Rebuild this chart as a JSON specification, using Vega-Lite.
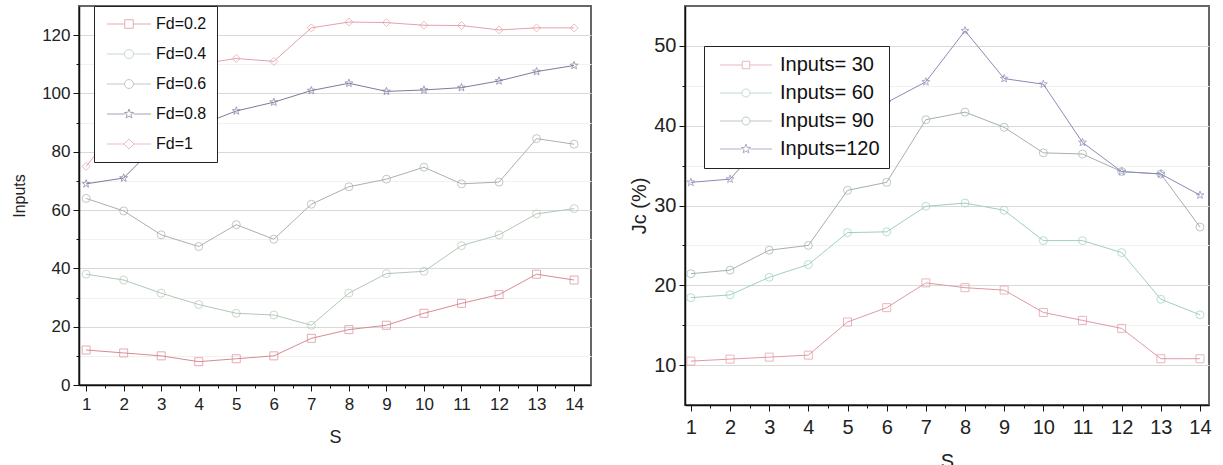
{
  "$schema": "https://vega.github.io/schema/vega-lite/v6.json",
  "padding": {"left": 10, "top": 4, "right": 5, "bottom": 0},
  "spacing": 36,
  "resolve": {"scale": {"color": "independent", "shape": "independent"}},
  "config": {
    "font": "Liberation Sans",
    "view": {"stroke": "#666", "strokeWidth": 2},
    "axis": {"domainColor": "#111", "domainWidth": 1.5, "tickColor": "#111", "labelColor": "#222", "titleColor": "#222", "titleFontWeight": "normal", "labelFont": "Liberation Sans", "titleFont": "Liberation Sans"},
    "legend": {"labelFont": "Liberation Sans", "labelColor": "#111", "fillColor": "#fff", "strokeColor": "#222", "symbolStrokeWidth": 1, "title": null}
  },
  "datasets": {
    "L": [
      {"S":1,"Inputs":12,"F":"Fd=0.2"},{"S":2,"Inputs":11,"F":"Fd=0.2"},{"S":3,"Inputs":10,"F":"Fd=0.2"},{"S":4,"Inputs":8,"F":"Fd=0.2"},{"S":5,"Inputs":9,"F":"Fd=0.2"},{"S":6,"Inputs":10,"F":"Fd=0.2"},{"S":7,"Inputs":16,"F":"Fd=0.2"},{"S":8,"Inputs":19,"F":"Fd=0.2"},{"S":9,"Inputs":20.5,"F":"Fd=0.2"},{"S":10,"Inputs":24.6,"F":"Fd=0.2"},{"S":11,"Inputs":28,"F":"Fd=0.2"},{"S":12,"Inputs":31,"F":"Fd=0.2"},{"S":13,"Inputs":38,"F":"Fd=0.2"},{"S":14,"Inputs":36,"F":"Fd=0.2"},
      {"S":1,"Inputs":38,"F":"Fd=0.4"},{"S":2,"Inputs":36,"F":"Fd=0.4"},{"S":3,"Inputs":31.5,"F":"Fd=0.4"},{"S":4,"Inputs":27.6,"F":"Fd=0.4"},{"S":5,"Inputs":24.6,"F":"Fd=0.4"},{"S":6,"Inputs":24,"F":"Fd=0.4"},{"S":7,"Inputs":20.5,"F":"Fd=0.4"},{"S":8,"Inputs":31.5,"F":"Fd=0.4"},{"S":9,"Inputs":38.2,"F":"Fd=0.4"},{"S":10,"Inputs":39,"F":"Fd=0.4"},{"S":11,"Inputs":47.8,"F":"Fd=0.4"},{"S":12,"Inputs":51.5,"F":"Fd=0.4"},{"S":13,"Inputs":58.7,"F":"Fd=0.4"},{"S":14,"Inputs":60.5,"F":"Fd=0.4"},
      {"S":1,"Inputs":64,"F":"Fd=0.6"},{"S":2,"Inputs":59.7,"F":"Fd=0.6"},{"S":3,"Inputs":51.5,"F":"Fd=0.6"},{"S":4,"Inputs":47.5,"F":"Fd=0.6"},{"S":5,"Inputs":55,"F":"Fd=0.6"},{"S":6,"Inputs":50,"F":"Fd=0.6"},{"S":7,"Inputs":62,"F":"Fd=0.6"},{"S":8,"Inputs":68,"F":"Fd=0.6"},{"S":9,"Inputs":70.6,"F":"Fd=0.6"},{"S":10,"Inputs":74.7,"F":"Fd=0.6"},{"S":11,"Inputs":69,"F":"Fd=0.6"},{"S":12,"Inputs":69.6,"F":"Fd=0.6"},{"S":13,"Inputs":84.5,"F":"Fd=0.6"},{"S":14,"Inputs":82.6,"F":"Fd=0.6"},
      {"S":1,"Inputs":69,"F":"Fd=0.8"},{"S":2,"Inputs":71,"F":"Fd=0.8"},{"S":3,"Inputs":84,"F":"Fd=0.8"},{"S":4,"Inputs":89,"F":"Fd=0.8"},{"S":5,"Inputs":94,"F":"Fd=0.8"},{"S":6,"Inputs":97,"F":"Fd=0.8"},{"S":7,"Inputs":101,"F":"Fd=0.8"},{"S":8,"Inputs":103.5,"F":"Fd=0.8"},{"S":9,"Inputs":100.7,"F":"Fd=0.8"},{"S":10,"Inputs":101.2,"F":"Fd=0.8"},{"S":11,"Inputs":102,"F":"Fd=0.8"},{"S":12,"Inputs":104.3,"F":"Fd=0.8"},{"S":13,"Inputs":107.5,"F":"Fd=0.8"},{"S":14,"Inputs":109.6,"F":"Fd=0.8"},
      {"S":1,"Inputs":75,"F":"Fd=1"},{"S":2,"Inputs":91,"F":"Fd=1"},{"S":3,"Inputs":105,"F":"Fd=1"},{"S":4,"Inputs":110,"F":"Fd=1"},{"S":5,"Inputs":112,"F":"Fd=1"},{"S":6,"Inputs":111,"F":"Fd=1"},{"S":7,"Inputs":122.5,"F":"Fd=1"},{"S":8,"Inputs":124.5,"F":"Fd=1"},{"S":9,"Inputs":124.3,"F":"Fd=1"},{"S":10,"Inputs":123.4,"F":"Fd=1"},{"S":11,"Inputs":123.3,"F":"Fd=1"},{"S":12,"Inputs":121.8,"F":"Fd=1"},{"S":13,"Inputs":122.5,"F":"Fd=1"},{"S":14,"Inputs":122.5,"F":"Fd=1"}
    ],
    "R": [
      {"S":1,"Jc":10.5,"G":"Inputs= 30"},{"S":2,"Jc":10.75,"G":"Inputs= 30"},{"S":3,"Jc":11.0,"G":"Inputs= 30"},{"S":4,"Jc":11.25,"G":"Inputs= 30"},{"S":5,"Jc":15.4,"G":"Inputs= 30"},{"S":6,"Jc":17.2,"G":"Inputs= 30"},{"S":7,"Jc":20.3,"G":"Inputs= 30"},{"S":8,"Jc":19.7,"G":"Inputs= 30"},{"S":9,"Jc":19.4,"G":"Inputs= 30"},{"S":10,"Jc":16.6,"G":"Inputs= 30"},{"S":11,"Jc":15.6,"G":"Inputs= 30"},{"S":12,"Jc":14.6,"G":"Inputs= 30"},{"S":13,"Jc":10.8,"G":"Inputs= 30"},{"S":14,"Jc":10.8,"G":"Inputs= 30"},
      {"S":1,"Jc":18.45,"G":"Inputs= 60"},{"S":2,"Jc":18.8,"G":"Inputs= 60"},{"S":3,"Jc":21.0,"G":"Inputs= 60"},{"S":4,"Jc":22.6,"G":"Inputs= 60"},{"S":5,"Jc":26.6,"G":"Inputs= 60"},{"S":6,"Jc":26.7,"G":"Inputs= 60"},{"S":7,"Jc":29.9,"G":"Inputs= 60"},{"S":8,"Jc":30.3,"G":"Inputs= 60"},{"S":9,"Jc":29.4,"G":"Inputs= 60"},{"S":10,"Jc":25.6,"G":"Inputs= 60"},{"S":11,"Jc":25.6,"G":"Inputs= 60"},{"S":12,"Jc":24.1,"G":"Inputs= 60"},{"S":13,"Jc":18.25,"G":"Inputs= 60"},{"S":14,"Jc":16.3,"G":"Inputs= 60"},
      {"S":1,"Jc":21.45,"G":"Inputs= 90"},{"S":2,"Jc":21.9,"G":"Inputs= 90"},{"S":3,"Jc":24.4,"G":"Inputs= 90"},{"S":4,"Jc":25.0,"G":"Inputs= 90"},{"S":5,"Jc":31.9,"G":"Inputs= 90"},{"S":6,"Jc":32.9,"G":"Inputs= 90"},{"S":7,"Jc":40.75,"G":"Inputs= 90"},{"S":8,"Jc":41.7,"G":"Inputs= 90"},{"S":9,"Jc":39.8,"G":"Inputs= 90"},{"S":10,"Jc":36.6,"G":"Inputs= 90"},{"S":11,"Jc":36.45,"G":"Inputs= 90"},{"S":12,"Jc":34.25,"G":"Inputs= 90"},{"S":13,"Jc":33.95,"G":"Inputs= 90"},{"S":14,"Jc":27.3,"G":"Inputs= 90"},
      {"S":1,"Jc":32.9,"G":"Inputs=120"},{"S":2,"Jc":33.3,"G":"Inputs=120"},{"S":3,"Jc":38.75,"G":"Inputs=120"},{"S":4,"Jc":41.25,"G":"Inputs=120"},{"S":5,"Jc":42.7,"G":"Inputs=120"},{"S":6,"Jc":42.9,"G":"Inputs=120"},{"S":7,"Jc":45.5,"G":"Inputs=120"},{"S":8,"Jc":51.9,"G":"Inputs=120"},{"S":9,"Jc":45.9,"G":"Inputs=120"},{"S":10,"Jc":45.2,"G":"Inputs=120"},{"S":11,"Jc":37.9,"G":"Inputs=120"},{"S":12,"Jc":34.25,"G":"Inputs=120"},{"S":13,"Jc":33.95,"G":"Inputs=120"},{"S":14,"Jc":31.3,"G":"Inputs=120"}
    ]
  },
  "hconcat": [
    {
      "width": 512,
      "height": 379,
      "data": {"name": "L"},
      "encoding": {
        "x": {"field": "S", "type": "quantitative", "title": "S",
          "scale": {"domain": [0.81, 14.45], "nice": false, "zero": false},
          "axis": {"values": [1,1.5,2,2.5,3,3.5,4,4.5,5,5.5,6,6.5,7,7.5,8,8.5,9,9.5,10,10.5,11,11.5,12,12.5,13,13.5,14],
            "labelExpr": "datum.value % 1 === 0 ? format(datum.value, 'd') : ''",
            "tickSize": {"condition": {"test": "datum.value % 1 === 0", "value": 6}, "value": 3},
            "grid": false, "labelFontSize": 17, "labelPadding": 5, "titleFontSize": 18, "titlePadding": 16, "labelFlush": false}},
        "y": {"field": "Inputs", "type": "quantitative", "title": "Inputs",
          "scale": {"domain": [0, 130], "nice": false},
          "axis": {"values": [0,10,20,30,40,50,60,70,80,90,100,110,120],
            "labelExpr": "datum.value % 20 === 0 ? datum.label : ''",
            "tickSize": {"condition": {"test": "datum.value % 20 === 0", "value": 6}, "value": 3},
            "gridColor": {"condition": {"test": "datum.value % 20 === 0", "value": "#d9d9d9"}, "value": "#f1f1f1"},
            "labelFontSize": 17, "labelPadding": 3, "titleFontSize": 16, "titlePadding": 14, "labelFlush": false}},
        "color": {"field": "F", "type": "nominal",
          "scale": {"domain": ["Fd=0.2","Fd=0.4","Fd=0.6","Fd=0.8","Fd=1"], "range": ["#d98a94","#b3c8b6","#a9b2b0","#7c7c9c","#e6a1ab"]},
          "legend": {"orient": "none", "legendX": 15, "legendY": 0, "symbolSize": 100, "symbolOffset": 17, "labelOffset": 19, "labelFontSize": 16, "rowPadding": 14, "padding": 10, "symbolStrokeWidth": 1}}
      },
      "layer": [
        {"mark": {"type": "line", "strokeWidth": 1}},
        {"transform": [{"filter": "datum.F === 'Fd=0.2'"}], "mark": {"type": "point", "shape": "square", "filled": false, "strokeWidth": 1, "size": 64}},
        {"transform": [{"filter": "datum.F === 'Fd=0.4'"}], "mark": {"type": "point", "shape": "circle", "filled": false, "strokeWidth": 1, "size": 64}},
        {"transform": [{"filter": "datum.F === 'Fd=0.6'"}], "mark": {"type": "point", "shape": "circle", "filled": false, "strokeWidth": 1, "size": 64}},
        {"transform": [{"filter": "datum.F === 'Fd=0.8'"}], "mark": {"type": "point", "shape": "M0,-1L0.235,-0.324L0.951,-0.309L0.38,0.124L0.588,0.809L0,0.4L-0.588,0.809L-0.38,0.124L-0.951,-0.309L-0.235,-0.324Z", "filled": false, "strokeWidth": 1, "size": 70}},
        {"transform": [{"filter": "datum.F === 'Fd=1'"}], "mark": {"type": "point", "shape": "diamond", "filled": false, "strokeWidth": 1, "size": 64}},
        {"mark": {"type": "point", "filled": false, "strokeWidth": 1, "opacity": 0},
          "encoding": {"shape": {"field": "F", "type": "nominal",
            "scale": {"domain": ["Fd=0.2","Fd=0.4","Fd=0.6","Fd=0.8","Fd=1"], "range": [
              "M-4.4,0H-0.85M0.85,0H4.4M-0.85,-0.85H0.85V0.85H-0.85Z",
              "M-4.4,0H-0.9M0.9,0H4.4M-0.9,0A0.9,0.9,0,1,0,0.9,0A0.9,0.9,0,1,0,-0.9,0Z",
              "M-4.4,0H-0.9M0.9,0H4.4M-0.9,0A0.9,0.9,0,1,0,0.9,0A0.9,0.9,0,1,0,-0.9,0Z",
              "M-4.4,0H-0.9M0.9,0H4.4M0,-1L0.235,-0.324L0.951,-0.309L0.38,0.124L0.588,0.809L0,0.4L-0.588,0.809L-0.38,0.124L-0.951,-0.309L-0.235,-0.324Z",
              "M-4.4,0H-1M1,0H4.4M0,-1L1,0L0,1L-1,0Z"]},
            "legend": {"orient": "none", "legendX": 15, "legendY": 0, "symbolSize": 100, "symbolOffset": 17, "labelOffset": 19, "labelFontSize": 16, "rowPadding": 14, "padding": 10, "symbolStrokeWidth": 1}}}}
      ]
    },
    {
      "width": 524,
      "height": 399,
      "data": {"name": "R"},
      "encoding": {
        "x": {"field": "S", "type": "quantitative", "title": "S",
          "scale": {"domain": [0.85, 14.23], "nice": false, "zero": false},
          "axis": {"values": [1,1.5,2,2.5,3,3.5,4,4.5,5,5.5,6,6.5,7,7.5,8,8.5,9,9.5,10,10.5,11,11.5,12,12.5,13,13.5,14],
            "labelExpr": "datum.value % 1 === 0 ? format(datum.value, 'd') : ''",
            "tickSize": {"condition": {"test": "datum.value % 1 === 0", "value": 6}, "value": 3},
            "grid": false, "labelFontSize": 20, "labelPadding": 6, "titleFontSize": 20, "titlePadding": 14, "labelFlush": false}},
        "y": {"field": "Jc", "type": "quantitative", "title": "Jc (%)",
          "scale": {"domain": [5, 55], "nice": false, "zero": false},
          "axis": {"values": [10,15,20,25,30,35,40,45,50],
            "labelExpr": "datum.value % 10 === 0 ? datum.label : ''",
            "tickSize": {"condition": {"test": "datum.value % 10 === 0", "value": 6}, "value": 3},
            "gridColor": {"condition": {"test": "datum.value % 10 === 0", "value": "#d9d9d9"}, "value": "#f1f1f1"},
            "labelFontSize": 20, "labelPadding": 3, "titleFontSize": 20, "titlePadding": 4, "labelFlush": false}},
        "color": {"field": "G", "type": "nominal",
          "scale": {"domain": ["Inputs= 30","Inputs= 60","Inputs= 90","Inputs=120"], "range": ["#e09aa4","#9fcfc3","#a3b0b0","#8a8ab8"]},
          "legend": {"orient": "none", "legendX": 19, "legendY": 40, "symbolSize": 100, "symbolOffset": 23, "labelOffset": 24, "labelFontSize": 20, "rowPadding": 8, "padding": 9, "symbolStrokeWidth": 1}}
      },
      "layer": [
        {"mark": {"type": "line", "strokeWidth": 1}},
        {"transform": [{"filter": "datum.G === 'Inputs= 30'"}], "mark": {"type": "point", "shape": "square", "filled": false, "strokeWidth": 1, "size": 64}},
        {"transform": [{"filter": "datum.G === 'Inputs= 60'"}], "mark": {"type": "point", "shape": "circle", "filled": false, "strokeWidth": 1, "size": 64}},
        {"transform": [{"filter": "datum.G === 'Inputs= 90'"}], "mark": {"type": "point", "shape": "circle", "filled": false, "strokeWidth": 1, "size": 64}},
        {"transform": [{"filter": "datum.G === 'Inputs=120'"}], "mark": {"type": "point", "shape": "M0,-1L0.235,-0.324L0.951,-0.309L0.38,0.124L0.588,0.809L0,0.4L-0.588,0.809L-0.38,0.124L-0.951,-0.309L-0.235,-0.324Z", "filled": false, "strokeWidth": 1, "size": 70}},
        {"mark": {"type": "point", "filled": false, "strokeWidth": 1, "opacity": 0},
          "encoding": {"shape": {"field": "G", "type": "nominal",
            "scale": {"domain": ["Inputs= 30","Inputs= 60","Inputs= 90","Inputs=120"], "range": [
              "M-5.2,0H-0.75M0.75,0H5.2M-0.75,-0.75H0.75V0.75H-0.75Z",
              "M-5.2,0H-0.8M0.8,0H5.2M-0.8,0A0.8,0.8,0,1,0,0.8,0A0.8,0.8,0,1,0,-0.8,0Z",
              "M-5.2,0H-0.8M0.8,0H5.2M-0.8,0A0.8,0.8,0,1,0,0.8,0A0.8,0.8,0,1,0,-0.8,0Z",
              "M-5.2,0H-0.9M0.9,0H5.2M0,-1L0.235,-0.324L0.951,-0.309L0.38,0.124L0.588,0.809L0,0.4L-0.588,0.809L-0.38,0.124L-0.951,-0.309L-0.235,-0.324Z"]},
            "legend": {"orient": "none", "legendX": 19, "legendY": 40, "symbolSize": 100, "symbolOffset": 23, "labelOffset": 24, "labelFontSize": 20, "rowPadding": 8, "padding": 9, "symbolStrokeWidth": 1}}}}
      ]
    }
  ]
}
